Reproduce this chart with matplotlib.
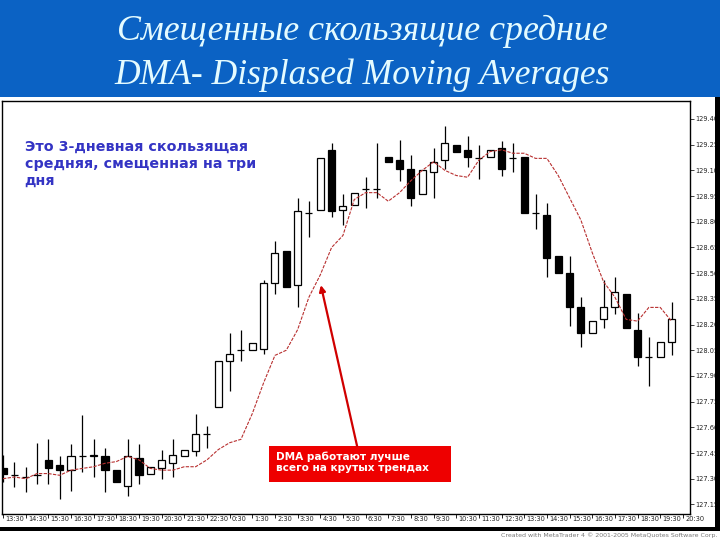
import numpy as np
import matplotlib.pyplot as plt
from matplotlib.patches import Rectangle
from matplotlib.transforms import blended_transform_factory

# --- свечи M30 (open, high, low, close) --- #
opens = [127.36, 127.32, 127.31, 127.32, 127.41, 127.38, 127.35, 127.43, 127.43, 127.43,
         127.35, 127.26, 127.42, 127.33, 127.36, 127.39, 127.43, 127.46, 127.56, 127.72,
         127.99, 128.05, 128.05, 128.06, 128.44, 128.63, 128.43, 128.85, 128.87, 129.22,
         128.87, 128.90, 128.99, 128.99, 129.18, 129.16, 129.11, 128.96, 129.09, 129.16,
         129.25, 129.22, 129.17, 129.18, 129.23, 129.17, 129.18, 128.85, 128.84, 128.60,
         128.50, 128.30, 128.15, 128.23, 128.30, 128.38, 128.17, 128.01, 128.01, 128.10]
highs = [127.44, 127.40, 127.37, 127.51, 127.53, 127.43, 127.50, 127.67, 127.53, 127.48,
         127.35, 127.53, 127.50, 127.37, 127.47, 127.53, 127.47, 127.68, 127.61, 127.99,
         128.15, 128.17, 128.09, 128.46, 128.69, 128.63, 128.94, 128.92, 129.17, 129.26,
         128.96, 128.97, 129.06, 129.26, 129.18, 129.28, 129.19, 129.10, 129.23, 129.36,
         129.25, 129.30, 129.25, 129.22, 129.27, 129.26, 129.18, 128.96, 128.91, 128.60,
         128.60, 128.36, 128.22, 128.46, 128.48, 128.38, 128.27, 128.13, 128.10, 128.33]
lows = [127.28, 127.25, 127.22, 127.27, 127.27, 127.18, 127.23, 127.34, 127.31, 127.22,
        127.28, 127.20, 127.27, 127.33, 127.30, 127.31, 127.43, 127.43, 127.48, 127.72,
        127.81, 127.99, 128.05, 128.03, 128.38, 128.42, 128.30, 128.71, 128.87, 128.83,
        128.78, 128.90, 128.88, 128.94, 129.15, 129.04, 128.89, 128.96, 128.94, 129.11,
        129.21, 129.12, 129.05, 129.18, 129.07, 129.09, 128.85, 128.76, 128.48, 128.50,
        128.19, 128.07, 128.15, 128.18, 128.26, 128.18, 127.96, 127.84, 128.01, 128.02]
closes = [127.33, 127.32, 127.31, 127.32, 127.36, 127.35, 127.43, 127.43, 127.44, 127.35,
          127.28, 127.43, 127.32, 127.37, 127.41, 127.44, 127.47, 127.56, 127.56, 127.99,
          128.03, 128.05, 128.09, 128.44, 128.62, 128.42, 128.86, 128.85, 129.17, 128.86,
          128.89, 128.97, 128.99, 128.99, 129.15, 129.11, 128.94, 129.10, 129.15, 129.26,
          129.21, 129.18, 129.17, 129.22, 129.11, 129.17, 128.85, 128.85, 128.59, 128.50,
          128.30, 128.15, 128.22, 128.30, 128.39, 128.18, 128.01, 128.01, 128.10, 128.23]

# 3-периодная скользящая, смещённая на 3 бара
dma = [127.30, 127.31, 127.30, 127.33, 127.33, 127.32, 127.35, 127.36, 127.37, 127.39,
       127.40, 127.43, 127.41, 127.36, 127.35, 127.35, 127.37, 127.37, 127.41, 127.47,
       127.51, 127.53, 127.68, 127.86, 128.02, 128.05, 128.17, 128.36, 128.49, 128.65,
       128.72, 128.93, 128.97, 128.97, 128.92, 128.97, 129.04, 129.10, 129.15, 129.10,
       129.07, 129.06, 129.16, 129.21, 129.22, 129.20, 129.20, 129.17, 129.17, 129.07,
       128.94, 128.81, 128.62, 128.45, 128.36, 128.23, 128.22, 128.30, 128.30, 128.22]

time_labels = ["13:30", "14:30", "15:30", "16:30", "17:30", "18:30", "19:30", "20:30",
               "21:30", "22:30", "0:30", "1:30", "2:30", "3:30", "4:30", "5:30",
               "6:30", "7:30", "8:30", "9:30", "10:30", "11:30", "12:30", "13:30",
               "14:30", "15:30", "16:30", "17:30", "18:30", "19:30", "20:30"]
price_ticks = [127.15, 127.30, 127.45, 127.60, 127.75, 127.90, 128.05, 128.20,
               128.35, 128.50, 128.65, 128.80, 128.95, 129.10, 129.25, 129.40]

title1 = "Смещенные скользящие средние"
title2 = "DMA- Displased Moving Averages"
note_blue = "Это 3-дневная скользящая\nсредняя, смещенная на три\nдня"
note_red = "DMA работают лучше\nвсего на крутых трендах"

fig = plt.figure(figsize=(7.2, 5.4), dpi=100)
fig.patch.set_facecolor("white")

# синяя шапка слайда
fig.patches.append(Rectangle((0, 1 - 97 / 540), 1, 97 / 540, transform=fig.transFigure,
                             facecolor="#0b62c4", edgecolor="none", zorder=0))
fig.text(0.5035, 1 - 31 / 540, title1, ha="center", va="center", color="#e4fbff",
         fontsize=25.8, style="italic", family="Liberation Serif")
fig.text(0.5035, 1 - 75 / 540, title2, ha="center", va="center", color="#e4fbff",
         fontsize=25.6, style="italic", family="Liberation Serif")

# чёрные полосы по краям
fig.patches.append(Rectangle((0, 1 - 531 / 540), 1, 4 / 540, transform=fig.transFigure,
                             facecolor="black", edgecolor="none"))
fig.patches.append(Rectangle((715 / 720, 1 - 531 / 540), 5 / 720, 434 / 540,
                             transform=fig.transFigure, facecolor="black", edgecolor="none"))
fig.text(0.996, 1 - 535 / 540, "Created with MetaTrader 4 © 2001-2005 MetaQuotes Software Corp.",
         ha="right", va="center", fontsize=4.5, color="#777777")

ax = fig.add_axes([2 / 720, 26 / 540, 688 / 720, 413 / 540])
n = len(opens)
x = np.arange(n)
o = np.array(opens)
c = np.array(closes)
w = 0.62

ax.vlines(x, lows, highs, color="black", lw=0.9, zorder=2)
bottom = np.minimum(o, c)
height = np.abs(c - o)
face = ["black" if cc < oo else "white" for oo, cc in zip(o, c)]
ax.bar(x, height, w, bottom=bottom, color=face, edgecolor="black", lw=0.9, zorder=3)

ax.plot(x, dma, color="#b83030", lw=0.8, ls=(0, (3, 1.2)), zorder=4)

ax.set_xlim(-0.09, 60.63)
ax.set_ylim(127.094, 129.505)
for s in ax.spines.values():
    s.set_linewidth(1.0)
    s.set_color("black")

ax.yaxis.tick_right()
ax.set_yticks(price_ticks)
ax.set_yticklabels([f"{p:.2f}" for p in price_ticks])
ax.tick_params(axis="y", length=3, width=0.6, labelsize=4.8, pad=1, colors="#222222")
ax.set_xticks(x[::2].tolist() + [60])
ax.set_xticklabels([])
ax.tick_params(axis="x", length=3, width=0.6)

tr = blended_transform_factory(ax.transData, ax.transAxes)
for k, lab in enumerate(time_labels):
    ax.text(2 * k + 0.2, -0.004, lab, transform=tr, ha="left", va="top",
            fontsize=4.8, color="#222222", clip_on=False)

# синий комментарий
ax.text(0.033, 0.905, note_blue, transform=ax.transAxes, ha="left", va="top",
        fontsize=10.3, weight="bold", color="#3434c4", linespacing=1.25)

# красная плашка и стрелка
ax.add_patch(Rectangle((23.48, 127.28), 16.06, 0.21, facecolor="#ee0000",
                       edgecolor="none", zorder=5))
ax.text(24.1, 127.395, note_red, ha="left", va="center", fontsize=7.6, weight="bold",
        color="white", linespacing=1.2, zorder=6)
ax.annotate("", xy=(28.05, 128.43), xytext=(31.25, 127.49),
            arrowprops=dict(arrowstyle="-|>", color="#d00000", lw=1.6,
                            mutation_scale=9, shrinkA=0, shrinkB=0), zorder=6)

fig.savefig("out.png", dpi=100)
